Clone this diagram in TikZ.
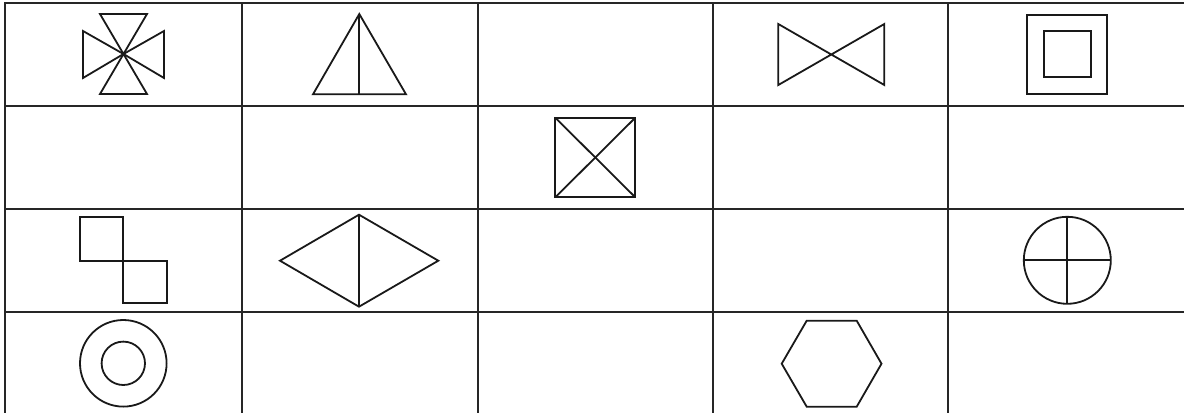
\documentclass[tikz,border=0pt]{standalone}
\begin{document}
\begin{tikzpicture}[x=1pt,y=-1pt,
  grid/.style={line width=2.2pt,color=black!85},
  shp/.style={line width=1.8pt,color=black!90,line join=miter}]
\useasboundingbox (0,0) rectangle (1184,413);
% grid
\foreach \yy in {3,106,209,312} \draw[grid] (4,\yy) -- (1184,\yy);
\foreach \xx in {5,242,478,713,948} \draw[grid] (\xx,2) -- (\xx,413);
% row 1: star of four triangles
\coordinate (sc) at (123.5,54);
\draw[shp] (sc) -- (100,14) -- (147,14) -- cycle;
\draw[shp] (sc) -- (100,94) -- (147,94) -- cycle;
\draw[shp] (sc) -- (83,31) -- (83,78) -- cycle;
\draw[shp] (sc) -- (164,31) -- (164,78) -- cycle;
% triangle with median
\draw[shp] (359.3,14) -- (313,94.3) -- (406,94.3) -- cycle;
\draw[shp] (359.3,14) -- (359.3,94.3);
% bowtie
\draw[shp] (778.3,24) -- (884.3,85) -- (884.3,24) -- (778.3,85) -- cycle;
% nested squares
\draw[shp] (1027,14.7) rectangle (1107.3,94.3);
\draw[shp] (1044,31.3) rectangle (1090.7,77.3);
% row 2: square with diagonals
\draw[shp] (555.3,117.7) rectangle (635.3,197.3);
\draw[shp] (555.3,117.7) -- (635.3,197.3);
\draw[shp] (635.3,117.7) -- (555.3,197.3);
% row 3: two squares
\draw[shp] (80,217.3) rectangle (123.3,260.7);
\draw[shp] (123.3,260.7) rectangle (166.7,303.3);
% diamond
\draw[shp] (280,260.7) -- (359,214.7) -- (438.3,260.7) -- (359,306.7) -- cycle;
\draw[shp] (359,214.7) -- (359,306.7);
% circle with cross
\draw[shp] (1067.3,260.3) circle (43.5pt);
\draw[shp] (1023.8,260.3) -- (1110.8,260.3);
\draw[shp] (1067.3,216.8) -- (1067.3,303.8);
% row 4: concentric circles
\draw[shp] (123.3,363.3) circle (43.3pt);
\draw[shp] (123.3,363.3) circle (21.7pt);
% hexagon
\draw[shp] (806.7,320.7) -- (856.7,320.7) -- (881.5,363.7) -- (856.7,406.7) -- (806.7,406.7) -- (781.7,363.7) -- cycle;
\end{tikzpicture}
\end{document}
